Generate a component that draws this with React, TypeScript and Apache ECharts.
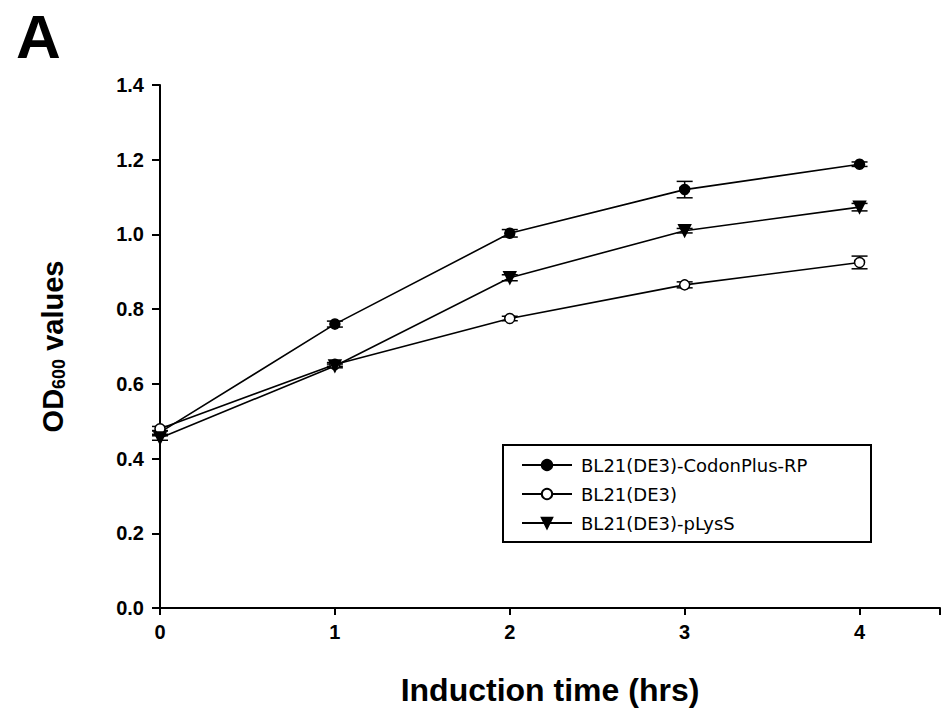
import React, { useEffect, useRef } from "react";
import * as echarts from "echarts";

const times = [0, 1, 2, 3, 4];
const xTicks = ["0", "1", "2", "3", "4"];
const codonPlus = [0.47, 0.76, 1.003, 1.12, 1.188];
const codonPlusErr = [0.005, 0.008, 0.01, 0.022, 0.006];
const bl21 = [0.48, 0.652, 0.775, 0.865, 0.925];
const bl21Err = [0.006, 0.005, 0.006, 0.008, 0.017];
const plyss = [0.455, 0.648, 0.884, 1.01, 1.073];
const plyssErr = [0.006, 0.005, 0.008, 0.006, 0.01];
const seriesNames = ["BL21(DE3)-CodonPlus-RP", "BL21(DE3)", "BL21(DE3)-pLysS"];

const FONT = "'Liberation Sans', Arial, sans-serif";

function errData(vals: number[], errs: number[]) {
  return vals.map((v, i) => [times[i], v - errs[i], v + errs[i]]);
}

function errSeries(vals: number[], errs: number[]) {
  return {
    type: "custom",
    silent: true,
    z: 1,
    data: errData(vals, errs),
    renderItem: (params: any, api: any) => {
      const x = api.value(0);
      const lo = api.coord([x, api.value(1)]);
      const hi = api.coord([x, api.value(2)]);
      const w = 8;
      const st = { stroke: "#000", lineWidth: 1.5 };
      return {
        type: "group",
        children: [
          { type: "line", shape: { x1: lo[0], y1: lo[1], x2: hi[0], y2: hi[1] }, style: st },
          { type: "line", shape: { x1: lo[0] - w, y1: lo[1], x2: lo[0] + w, y2: lo[1] }, style: st },
          { type: "line", shape: { x1: hi[0] - w, y1: hi[1], x2: hi[0] + w, y2: hi[1] }, style: st },
        ],
      };
    },
  };
}

export default function App() {
  const ref = useRef<HTMLDivElement>(null);
  useEffect(() => {
    if (!ref.current) return;
    const chart = echarts.init(ref.current, null, { renderer: "svg" });
    const line = (name: string, vals: number[], symbol: string, fill: string, size: number, rot = 0) => ({
      type: "line",
      name,
      data: vals.map((v, i) => [times[i], v]),
      symbol,
      symbolSize: size,
      symbolRotate: rot,
      showAllSymbol: true,
      z: 3,
      lineStyle: { color: "#000", width: 1.6 },
      itemStyle: { color: fill, borderColor: "#000", borderWidth: 1.5 },
    });
    chart.setOption({
      animation: false,
      backgroundColor: "#fff",
      title: {
        text: "A",
        left: 11,
        top: 0,
        textStyle: { fontFamily: FONT, fontSize: 62, fontWeight: "bold", color: "#000" },
      },
      grid: { left: 160, right: 4, top: 85, bottom: 100, containLabel: false, outerBoundsMode: "none" },
      xAxis: {
        type: "value",
        min: 0,
        max: 4.46,
        interval: 1,
        name: "Induction time (hrs)",
        nameLocation: "middle",
        nameGap: 66,
        nameTextStyle: { fontFamily: FONT, fontSize: 32, fontWeight: "bold", color: "#000" },
        axisLine: { lineStyle: { color: "#000", width: 2 } },
        axisTick: { show: true, length: 7, lineStyle: { color: "#000", width: 2 } },
        axisLabel: {
          margin: 14,
          fontFamily: FONT,
          fontSize: 20,
          fontWeight: "bold",
          color: "#000",
          formatter: (v: number) => (Number.isInteger(v) && v <= 4 ? xTicks[v] : ""),
        },
        splitLine: { show: false },
      },
      yAxis: {
        type: "value",
        min: 0,
        max: 1.4,
        interval: 0.2,
        name: "{a|OD}{b|600}{a| values}",
        nameLocation: "middle",
        nameRotate: 90,
        nameGap: 92,
        nameTextStyle: {
          rich: {
            a: { fontFamily: FONT, fontSize: 29, fontWeight: "bold", color: "#000" },
            b: { fontFamily: FONT, fontSize: 18, fontWeight: "bold", color: "#000", verticalAlign: "bottom", padding: [12, 0, 0, 0] },
          },
        },
        axisLine: { show: true, lineStyle: { color: "#000", width: 2 } },
        axisTick: { show: true, inside: false, length: 8, lineStyle: { color: "#000", width: 2 } },
        axisLabel: {
          margin: 16,
          fontFamily: FONT,
          fontSize: 20,
          fontWeight: "bold",
          color: "#000",
          formatter: (v: number) => v.toFixed(1),
        },
        splitLine: { show: false },
      },
      graphic: [
        {
          type: "rect",
          left: 502,
          top: 444,
          shape: { width: 368, height: 97 },
          style: { fill: "#fff", stroke: "#000", lineWidth: 2 },
          z: 0,
        },
      ],
      legend: {
        show: true,
        left: 516,
        top: 451,
        orient: "vertical",
        itemWidth: 50,
        itemHeight: 13,
        itemGap: 11,
        data: seriesNames,
        textStyle: { fontFamily: "'DejaVu Sans', sans-serif", fontSize: 18, color: "#000", padding: [0, 0, 0, 4] },
        z: 10,
      },
      series: [
        errSeries(codonPlus, codonPlusErr),
        errSeries(bl21, bl21Err),
        errSeries(plyss, plyssErr),
        line(seriesNames[0], codonPlus, "circle", "#000", 10),
        line(seriesNames[1], bl21, "circle", "#fff", 10),
        line(seriesNames[2], plyss, "triangle", "#000", 12, 180),
      ],
    });
    return () => chart.dispose();
  }, []);
  return <div ref={ref} style={{ width: 944, height: 708, position: "absolute", left: 0, top: 0 }} />;
}
